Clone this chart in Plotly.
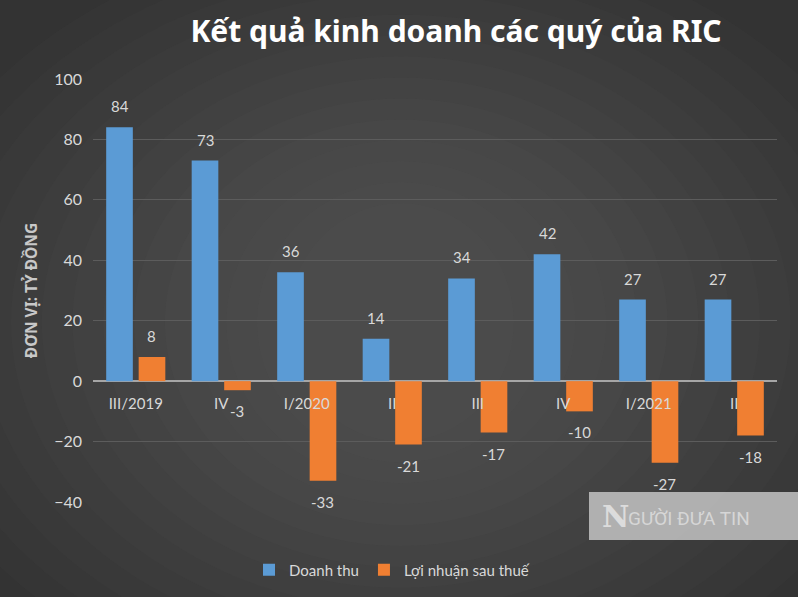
import plotly.graph_objects as go

categories = ["III/2019", "IV", "I/2020", "II", "III", "IV", "I/2021", "II"]
doanh_thu = [84, 73, 36, 14, 34, 42, 27, 27]
loi_nhuan = [8, -3, -33, -21, -17, -10, -27, -18]
y_ticks = [-40, -20, 0, 20, 40, 60, 80, 100]

x_idx = list(range(len(categories)))
FONT = "Lato, Noto Sans, sans-serif"
LABEL = "#d9d9d9"

W, H = 798, 597
ML, MR, MT, MB = 93, 21, 79, 95
BARGAP, GROUPGAP = 0.24, 0.18
cat_px = (W - ML - MR) / len(categories)
half_slot = cat_px * (1 - BARGAP) / 4  # offset of each bar centre from category centre

fig = go.Figure()
fig.add_trace(go.Bar(x=x_idx, y=doanh_thu, name="Doanh thu",
                     marker=dict(color="#5b9bd5", line=dict(width=0))))
fig.add_trace(go.Bar(x=x_idx, y=loi_nhuan, name="Lợi nhuận sau thuế",
                     marker=dict(color="#f07f32", line=dict(width=0))))

annotations = []
for series, sgn in ((doanh_thu, -1), (loi_nhuan, 1)):
    for i, v in zip(x_idx, series):
        annotations.append(dict(x=i, y=v, xref="x", yref="y", text=str(v), showarrow=False,
                                xshift=sgn * half_slot, yshift=21 if v >= 0 else -21,
                                font=dict(color=LABEL, size=15, family=FONT)))

# background radial-ish lightening
shapes = []
n = 14
for i in range(n):
    s = 0.045 * i
    shapes.append(dict(type="circle", xref="paper", yref="paper", layer="below",
                       x0=-0.3 + s, x1=1.2 - s, y0=-0.5 + s * 1.1, y1=1.35 - s * 1.1,
                       fillcolor="#7a7a7a", opacity=0.045, line=dict(width=0)))
# watermark box
shapes.append(dict(type="rect", xref="paper", yref="paper", layer="above",
                   x0=(589 - ML) / (W - ML - MR), x1=1.05,
                   y0=-(540 - (H - MB)) / (H - MT - MB), y1=((H - MB) - 492) / (H - MT - MB),
                   fillcolor="#bababa", opacity=0.92, line=dict(width=0)))
annotations += [
    dict(xref="paper", yref="paper", x=(600 - ML) / (W - ML - MR), y=-(516 - (H - MB)) / (H - MT - MB),
         xanchor="left", yanchor="middle", text="<b>N</b>", showarrow=False,
         font=dict(size=30, color="#dcdcdc", family="DejaVu Serif, serif")),
    dict(xref="paper", yref="paper", x=(626 - ML) / (W - ML - MR), y=-(518 - (H - MB)) / (H - MT - MB),
         xanchor="left", yanchor="middle", text="GƯỜI ĐƯA TIN", showarrow=False,
         font=dict(size=19, color="#d6d6d6", family="Liberation Sans Narrow, Roboto, sans-serif")),
]

fig.update_layout(
    width=W, height=H,
    paper_bgcolor="#333333", plot_bgcolor="rgba(0,0,0,0)",
    margin=dict(l=ML, r=MR, t=MT, b=MB, autoexpand=False),
    barmode="group", bargap=BARGAP, bargroupgap=GROUPGAP,
    font=dict(family=FONT, color=LABEL, size=15),
    title=dict(text="<b>Kết quả kinh doanh các quý của RIC</b>",
               x=(456 - ML) / (W - ML - MR), xref="paper", xanchor="center",
               y=1 - 31 / H, yanchor="middle",
               font=dict(size=30, color="#ffffff", family="Noto Sans, sans-serif")),
    xaxis=dict(tickmode="array", tickvals=x_idx, ticktext=categories,
               anchor="free", position=40 / 140, showgrid=False, showline=False,
               ticks="", ticklabelstandoff=12, range=[-0.5, 7.5], automargin=False,
               tickfont=dict(size=15, color=LABEL, family=FONT)),
    yaxis=dict(range=[-40, 100], tickvals=y_ticks, showgrid=True,
               gridcolor="#5c5c5c", gridwidth=1, zeroline=True,
               zerolinecolor="#a6a6a6", zerolinewidth=2, automargin=False,
               ticklabelstandoff=10,
               tickfont=dict(size=16, color=LABEL, family=FONT),
               title=dict(text="<b>ĐƠN VỊ: TỶ ĐỒNG</b>", standoff=12,
                          font=dict(size=15.5, color="#c8c8c8", family="Noto Sans, sans-serif"))),
    legend=dict(orientation="h", x=(392 - ML) / (W - ML - MR), xanchor="center",
                y=-(570 - (H - MB)) / (H - MT - MB), yanchor="middle",
                font=dict(size=15, color=LABEL, family=FONT),
                bgcolor="rgba(0,0,0,0)"),
    shapes=shapes,
    annotations=annotations,
)

fig.write_html("out.html", config={"displayModeBar": False},
               post_script="document.body.style.margin='0';document.body.style.background='#333333';")
